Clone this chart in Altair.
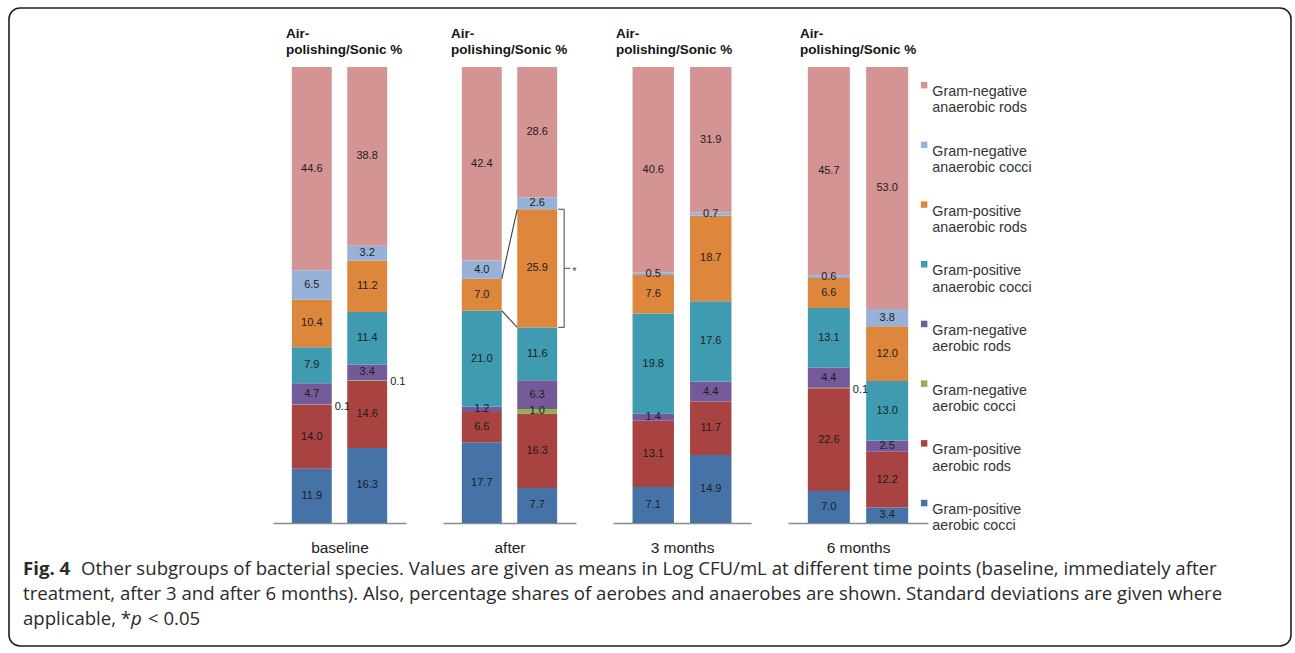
import altair as alt
import pandas as pd

# ---------------- data ----------------
GROUPS = ["baseline", "after", "3 months", "6 months"]
METHODS = ["Air-polishing", "Sonic"]
# stack order, bottom to top
CATEGORIES = [
    "Gram-positive aerobic cocci",
    "Gram-positive aerobic rods",
    "Gram-negative aerobic cocci",
    "Gram-negative aerobic rods",
    "Gram-positive anaerobic cocci",
    "Gram-positive anaerobic rods",
    "Gram-negative anaerobic cocci",
    "Gram-negative anaerobic rods",
]
COLORS = ["#4573A7", "#A84342", "#8DB253", "#755A9A",
          "#3F9BB0", "#DD873C", "#97B2D8", "#D49494"]

AIR_BASELINE = [11.9, 14.0, 0.1, 4.7, 7.9, 10.4, 6.5, 44.6]
SONIC_BASELINE = [16.3, 14.6, 0.1, 3.4, 11.4, 11.2, 3.2, 38.8]
AIR_AFTER = [17.7, 6.6, 0.0, 1.2, 21.0, 7.0, 4.0, 42.4]
SONIC_AFTER = [7.7, 16.3, 1.0, 6.3, 11.6, 25.9, 2.6, 28.6]
AIR_3M = [7.1, 13.1, 0.0, 1.4, 19.8, 7.6, 0.5, 40.6]
SONIC_3M = [14.9, 11.7, 0.0, 4.4, 17.6, 18.7, 0.7, 31.9]
AIR_6M = [7.0, 22.6, 0.1, 4.4, 13.1, 6.6, 0.6, 45.7]
SONIC_6M = [3.4, 12.2, 0.0, 2.5, 13.0, 12.0, 3.8, 53.0]

SIGNIFICANT_GROUP = "after"
SIGNIFICANT_CATEGORY = "Gram-positive anaerobic rods"
SIG_MARK = "*"

PANEL_TITLE = ["Air-", "polishing/Sonic %"]
CAPTION_BOLD = "Fig. 4"
CAPTION_LINE1 = ("Other subgroups of bacterial species. Values are given as means in Log CFU/mL "
                 "at different time points (baseline, immediately after")
CAPTION_LINE2 = ("treatment, after 3 and after 6 months). Also, percentage shares of aerobes and "
                 "anaerobes are shown. Standard deviations are given where")
CAPTION_LINE3 = ["applicable, *", "p", "< 0.05"]

# ---------------- layout / style ----------------
ORIGIN_X, ORIGIN_Y = 273, 67          # top-left of the first panel in the picture
PANEL_W = [133, 133, 138, 140]
PANEL_H = 456
SPACING = 37
TITLE_DX = [13, 8, 3, 12]
FONT = "Liberation Sans"
CAP_FONT = "Open Sans"
CAP_SIZE = 18.6

series = {
    ("baseline", "Air-polishing"): AIR_BASELINE, ("baseline", "Sonic"): SONIC_BASELINE,
    ("after", "Air-polishing"): AIR_AFTER, ("after", "Sonic"): SONIC_AFTER,
    ("3 months", "Air-polishing"): AIR_3M, ("3 months", "Sonic"): SONIC_3M,
    ("6 months", "Air-polishing"): AIR_6M, ("6 months", "Sonic"): SONIC_6M,
}

rows = []
for g in GROUPS:
    for m in METHODS:
        vals = series[(g, m)]
        total = sum(vals)
        cum = 0.0
        for cat, v in zip(CATEGORIES, vals):
            rows.append(dict(group=g, method=m, category=cat, value=v,
                             y0=cum / total, y1=(cum + v) / total,
                             mid=(cum + v / 2) / total, label=f"{v:.1f}"))
            cum += v
df = pd.DataFrame(rows)

legend_order = CATEGORIES[::-1]
color_scale = alt.Scale(domain=legend_order, range=COLORS[::-1])
legend = alt.Legend(
    title=None, orient="none", legendX=644, legendY=11, padding=0,
    symbolType="square", symbolSize=42, symbolStrokeWidth=0,
    labelFont=FONT, labelFontSize=14.3, labelColor="#333333", labelLimit=300,
    labelOffset=1, labelBaseline="top", rowPadding=21.7,
    labelExpr="[slice(datum.label, 0, indexof(datum.label, ' ')), "
              "slice(datum.label, indexof(datum.label, ' ') + 1)]",
)

one = pd.DataFrame({"k": [0]})


def panel(i, g):
    d = df[df.group == g]
    xs = alt.Scale(domain=METHODS, paddingInner=0.28, paddingOuter=0.34)
    ys = alt.Scale(domain=[0, 1], nice=False)
    xaxis = alt.Axis(labels=False, ticks=False, grid=False, domainColor="#8c8c8c",
                     domainWidth=1.5, title=g, titleFont=FONT, titleFontSize=15.5,
                     titleFontWeight="normal", titleColor="#222222", titlePadding=17)
    base = alt.Chart(d)
    bars = base.mark_bar().encode(
        x=alt.X("method:N", scale=xs, axis=xaxis),
        y=alt.Y("y0:Q", scale=ys, axis=None),
        y2="y1:Q",
        color=alt.Color("category:N", scale=color_scale, legend=legend),
    )
    inside = base.transform_filter("datum.value >= 0.3").mark_text(
        font=FONT, fontSize=11, color="#1c1c1c"
    ).encode(x="method:N", y="mid:Q", text="label:N")
    outside = base.transform_filter("datum.value > 0 && datum.value < 0.3").mark_text(
        font=FONT, fontSize=11, color="#1c1c1c", align="left", dx=3, dy=2
    ).encode(x=alt.X("method:N", bandPosition=1), y="mid:Q", text="label:N")
    layers = [bars, inside, outside]

    # group heading, two lines
    ob = alt.Chart(one)
    head = dict(font=FONT, fontSize=13.5, fontWeight="bold", color="#141414",
                align="left", baseline="alphabetic")
    layers.append(ob.mark_text(**head).encode(
        x=alt.value(TITLE_DX[i]), y=alt.value(38 - ORIGIN_Y), text=alt.value(PANEL_TITLE[0])))
    layers.append(ob.mark_text(**head).encode(
        x=alt.value(TITLE_DX[i]), y=alt.value(54 - ORIGIN_Y), text=alt.value(PANEL_TITLE[1])))

    if g == SIGNIFICANT_GROUP:
        s = d[d.category == SIGNIFICANT_CATEGORY].set_index("method")
        conn = pd.DataFrame({
            "a": [METHODS[0], METHODS[0]], "b": [METHODS[1], METHODS[1]],
            "ya": [s.loc[METHODS[0], "y1"], s.loc[METHODS[0], "y0"]],
            "yb": [s.loc[METHODS[1], "y1"], s.loc[METHODS[1], "y0"]],
        })
        layers.append(alt.Chart(conn).mark_rule(color="#3c3c3c", strokeWidth=1.1).encode(
            x=alt.X("a:N", bandPosition=1), x2=alt.X2("b:N", bandPosition=0),
            y="ya:Q", y2="yb:Q"))
        son = d[(d.category == SIGNIFICANT_CATEGORY) & (d.method == METHODS[1])]
        sb = alt.Chart(son)
        layers.append(sb.mark_rule(color="#555555", strokeWidth=1.1, xOffset=7).encode(
            x=alt.X("method:N", bandPosition=1), y="y0:Q", y2="y1:Q"))
        for fld in ["y0", "y1"]:
            layers.append(sb.mark_rule(color="#555555", strokeWidth=1.1, xOffset=1, x2Offset=7).encode(
                x=alt.X("method:N", bandPosition=1), x2=alt.X2("method:N", bandPosition=1),
                y=f"{fld}:Q"))
        layers.append(sb.mark_rule(color="#555555", strokeWidth=1.1, xOffset=7, x2Offset=13).encode(
            x=alt.X("method:N", bandPosition=1), x2=alt.X2("method:N", bandPosition=1),
            y="mid:Q"))
        layers.append(sb.mark_text(font=FONT, fontSize=11, color="#444444", align="left",
                                   dx=15, dy=4).encode(
            x=alt.X("method:N", bandPosition=1), y="mid:Q", text=alt.value(SIG_MARK)))

    if i == 0:
        layers.append(ob.mark_rect(fillOpacity=0, stroke="#1e1e1e", strokeWidth=1.6,
                                   cornerRadius=11).encode(
            x=alt.value(9 - ORIGIN_X), x2=alt.value(1291 - ORIGIN_X),
            y=alt.value(8 - ORIGIN_Y), y2=alt.value(646 - ORIGIN_Y)))
        cap = dict(font=CAP_FONT, fontSize=CAP_SIZE, color="#2a2a2a", align="left",
                   baseline="alphabetic")
        layers.append(ob.mark_text(**{**cap, "fontWeight": "bold"}).encode(
            x=alt.value(23 - ORIGIN_X), y=alt.value(575 - ORIGIN_Y), text=alt.value(CAPTION_BOLD)))
        layers.append(ob.mark_text(**cap).encode(
            x=alt.value(81 - ORIGIN_X), y=alt.value(575 - ORIGIN_Y), text=alt.value(CAPTION_LINE1)))
        layers.append(ob.mark_text(**cap).encode(
            x=alt.value(23 - ORIGIN_X), y=alt.value(600 - ORIGIN_Y), text=alt.value(CAPTION_LINE2)))
        layers.append(ob.mark_text(**cap).encode(
            x=alt.value(23 - ORIGIN_X), y=alt.value(625 - ORIGIN_Y), text=alt.value(CAPTION_LINE3[0])))
        layers.append(ob.mark_text(**{**cap, "fontStyle": "italic"}).encode(
            x=alt.value(131 - ORIGIN_X), y=alt.value(625 - ORIGIN_Y), text=alt.value(CAPTION_LINE3[1])))
        layers.append(ob.mark_text(**cap).encode(
            x=alt.value(148 - ORIGIN_X), y=alt.value(625 - ORIGIN_Y), text=alt.value(CAPTION_LINE3[2])))

    return alt.layer(*layers).properties(width=PANEL_W[i], height=PANEL_H)


chart = alt.hconcat(*[panel(i, g) for i, g in enumerate(GROUPS)],
                    spacing=SPACING, bounds="flush").properties(
    padding={"left": 8, "top": 7, "right": 3, "bottom": 6},
    background="white",
).configure_view(strokeWidth=0)

chart.save("out.html", embed_options={"renderer": "svg", "actions": False})
